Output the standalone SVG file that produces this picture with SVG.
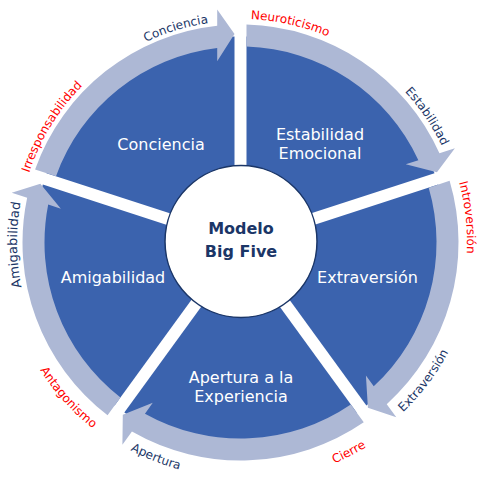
<svg xmlns="http://www.w3.org/2000/svg" width="489" height="480" viewBox="0 0 489 480">
<style>
.slice{fill:#3B63AE}
.band{fill:#ADB8D5}
.in{font-family:"DejaVu Sans",sans-serif;font-size:16px;fill:#ffffff;text-anchor:middle}
.ctr{font-family:"DejaVu Sans",sans-serif;font-size:16px;font-weight:bold;fill:#1B3667;text-anchor:middle}
.lb{font-family:"DejaVu Sans",sans-serif;font-size:12px;text-anchor:middle}
.nv{fill:#1B3667}
.rd{fill:#FF0000}
</style>
<defs>
<path id="slice" d="M -6 -8.26 L -193.99 -69.33 A 206 206 0 0 1 -6 -205.91 Z"/>
<path id="band" d="M -205.41 -73.04 A 218 218 0 0 1 -23.3 -216.75 L -23.3 -233 L -6 -208.5 L -23.3 -181.3 L -23.3 -194.61 A 196 196 0 0 0 -184.48 -66.25 Z"/>
<path id="p-con" d="M 36.64 155.13 A 221.8 221.8 0 0 1 361.96 56.90"/>
<path id="p-neu" d="M 105.31 64.40 A 223.6 223.6 0 0 1 439.37 140.29"/>
<path id="p-est" d="M 263.44 20.48 A 223.2 223.2 0 0 1 455.15 303.66"/>
<path id="p-int" d="M 366.22 53.97 A 226.6 226.6 0 0 1 404.33 399.06"/>
<path id="p-ami" d="M 98.64 415.20 A 223.5 223.5 0 0 1 95.05 72.80"/>
<path id="p-irr" d="M 29.5 313.1 A 222.5 222.5 0 0 1 207.61 22.45"/>
<path id="p-ext" d="M 252.79 477.18 A 235 235 0 0 0 469.48 189.62"/>
<path id="p-cie" d="M 147.88 463.90 A 240 240 0 0 0 474.62 295.25"/>
<path id="p-ape" d="M 17.65 317.07 A 235 235 0 0 0 352.64 449.02"/>
<path id="p-ant" d="M 5.31 209.44 A 237.5 237.5 0 0 0 248.79 479.86"/>
</defs>
<rect width="489" height="480" fill="#ffffff"/>
<g id="node-conciencia">
<use href="#slice" class="slice" transform="translate(240.5 242.5)"/>
<text class="in" x="161" y="150">Conciencia</text>
</g>
<g id="node-estabilidad">
<use href="#slice" class="slice" transform="translate(240.5 242.5) rotate(72)"/>
<text class="in" x="320" y="140">Estabilidad</text>
<text class="in" x="320" y="159">Emocional</text>
</g>
<g id="node-extraversion">
<use href="#slice" class="slice" transform="translate(240.5 242.5) rotate(144)"/>
<text class="in" x="367.5" y="283">Extraversión</text>
</g>
<g id="node-apertura">
<use href="#slice" class="slice" transform="translate(240.5 242.5) rotate(216)"/>
<text class="in" x="241" y="383">Apertura a la</text>
<text class="in" x="241" y="402">Experiencia</text>
</g>
<g id="node-amigabilidad">
<use href="#slice" class="slice" transform="translate(240.5 242.5) rotate(288)"/>
<text class="in" x="113" y="283">Amigabilidad</text>
</g>
<g id="connectors">
<use href="#band" class="band" transform="translate(240.5 242.5)"/>
<use href="#band" class="band" transform="translate(240.5 242.5) rotate(72)"/>
<use href="#band" class="band" transform="translate(240.5 242.5) rotate(144)"/>
<use href="#band" class="band" transform="translate(240.5 242.5) rotate(216)"/>
<use href="#band" class="band" transform="translate(240.5 242.5) rotate(288)"/>
<text class="lb nv"><textPath href="#p-con" startOffset="50%">Conciencia</textPath></text>
<text class="lb rd"><textPath href="#p-neu" startOffset="50%">Neuroticismo</textPath></text>
<text class="lb nv"><textPath href="#p-est" startOffset="50%">Estabilidad</textPath></text>
<text class="lb rd"><textPath href="#p-int" startOffset="50%">Introversión</textPath></text>
<text class="lb nv"><textPath href="#p-ext" startOffset="50%">Extraversión</textPath></text>
<text class="lb rd"><textPath href="#p-cie" startOffset="50%">Cierre</textPath></text>
<text class="lb nv"><textPath href="#p-ape" startOffset="50%">Apertura</textPath></text>
<text class="lb rd"><textPath href="#p-ant" startOffset="50%">Antagonismo</textPath></text>
<text class="lb nv" style="font-size:13px"><textPath href="#p-ami" startOffset="50%">Amigabilidad</textPath></text>
<text class="lb rd"><textPath href="#p-irr" startOffset="50%">Irresponsabilidad</textPath></text>
</g>
<g id="node-center">
<circle cx="241" cy="241.5" r="76" fill="#ffffff" stroke="#1B3667" stroke-width="1.5"/>
<text class="ctr" x="241" y="234">Modelo</text>
<text class="ctr" x="241" y="257">Big Five</text>
</g>
</svg>
